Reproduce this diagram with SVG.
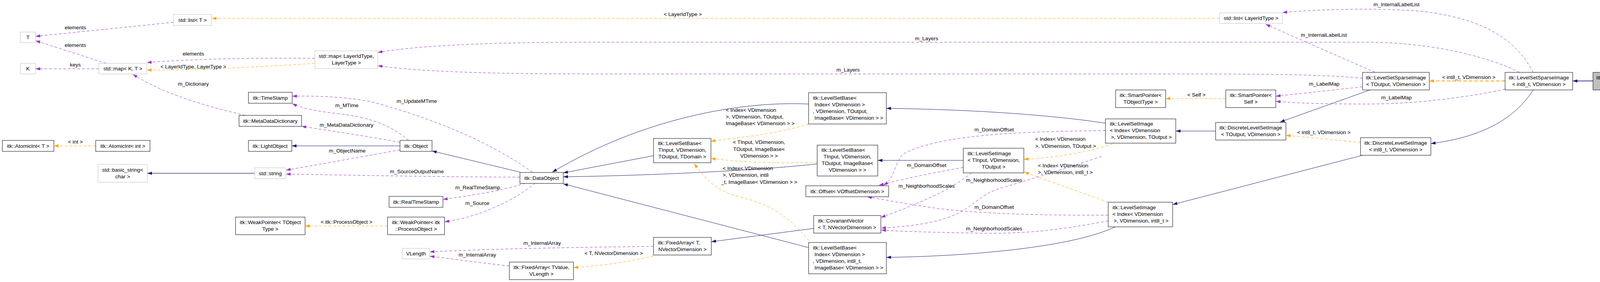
<svg xmlns="http://www.w3.org/2000/svg" width="4275" height="721" viewBox="0 0 4275 721">
<style>
text{font-family:"Liberation Sans",Arial,sans-serif;font-size:13.5px;fill:#000}
.n rect{fill:#fff;stroke:#000;stroke-width:1}
.g rect{fill:#fff;stroke:#bfbfbf;stroke-width:1}
.m{text-anchor:middle}
.inh{fill:none;stroke:#191970;stroke-width:1}
.tpl{fill:none;stroke:#ffa500;stroke-width:1;stroke-dasharray:7,5}
.use{fill:none;stroke:#9a32cd;stroke-width:1;stroke-dasharray:7,5}
</style>
<defs>
<marker id="an" markerWidth="12" markerHeight="8" refX="12" refY="4" orient="auto" markerUnits="userSpaceOnUse"><path d="M0,0L12,4L0,8z" fill="#191970"/></marker>
<marker id="ao" markerWidth="12" markerHeight="8" refX="12" refY="4" orient="auto" markerUnits="userSpaceOnUse"><path d="M0,0L12,4L0,8z" fill="#ffa500"/></marker>
<marker id="ap" markerWidth="12" markerHeight="8" refX="12" refY="4" orient="auto" markerUnits="userSpaceOnUse"><path d="M0,0L12,4L0,8z" fill="#9a32cd"/></marker>
</defs>
<rect width="4275" height="721" fill="#fff"/>
<g id="edges">
<path class="inh" style="stroke:#404080;stroke-width:2" marker-end="url(#an)" d="M4078,207H4026"/>
<path class="inh" marker-end="url(#an)" d="M3925,230C3880,300 3800,350 3663,367"/>
<path class="inh" marker-end="url(#an)" d="M3507,230L3277,312"/>
<path class="inh" marker-end="url(#an)" d="M3112,335H3010"/>
<path class="inh" marker-end="url(#an)" d="M3488,397L3002,523"/>
<path class="inh" marker-end="url(#an)" d="M2830,315C2700,295 2500,280 2269,277"/>
<path class="inh" marker-end="url(#an)" d="M2855,580C2750,630 2500,655 2269,658"/>
<path class="inh" marker-end="url(#an)" d="M2466,410H2247"/>
<path class="inh" marker-end="url(#an)" d="M2070,266C1900,258 1650,300 1414,440"/>
<path class="inh" marker-end="url(#an)" d="M1673,398L1442,442"/>
<path class="inh" marker-end="url(#an)" d="M2092,419C1900,440 1600,450 1442,452"/>
<path class="inh" marker-end="url(#an)" d="M2070,633L1442,470"/>
<path class="inh" marker-end="url(#an)" d="M2083,584L1821,618"/>
<path class="inh" marker-end="url(#an)" d="M1331,440L1106,386"/>
<path class="inh" marker-end="url(#an)" d="M1024,373H747"/>
<path class="inh" style="stroke:#404080;stroke-width:1.5" marker-end="url(#an)" d="M652,443H377"/>

<path class="tpl" marker-end="url(#ao)" d="M3122,47H542"/>
<path class="tpl" marker-end="url(#ao)" d="M806,162C650,172 500,180 376,179"/>
<path class="tpl" marker-end="url(#ao)" d="M245,373H138"/>
<path class="tpl" marker-end="url(#ao)" d="M992,578H781"/>
<path class="tpl" marker-end="url(#ao)" d="M1673,654C1600,672 1530,680 1468,684"/>
<path class="tpl" marker-end="url(#ao)" d="M2070,317C1980,345 1900,350 1820,361"/>
<path class="tpl" marker-end="url(#ao)" d="M2092,415C1980,418 1900,415 1820,405"/>
<path class="tpl" marker-end="url(#ao)" d="M2070,615C2040,580 2000,530 1900,505C1830,490 1800,450 1777,418"/>
<path class="tpl" marker-end="url(#ao)" d="M2848,368C2780,390 2700,404 2621,407"/>
<path class="tpl" marker-end="url(#ao)" d="M2837,517L2622,440"/>
<path class="tpl" marker-end="url(#ao)" d="M3138,252H2984"/>
<path class="tpl" marker-end="url(#ao)" d="M3483,364L3292,346"/>
<path class="tpl" style="stroke-width:2;stroke-dasharray:9,5" marker-end="url(#ao)" d="M3853,207H3659"/>

<path class="use" marker-end="url(#ap)" d="M444,57L91,93"/>
<path class="use" marker-end="url(#ap)" d="M272,162L91,104"/>
<path class="use" marker-end="url(#ap)" d="M253,176H91"/>
<path class="use" marker-end="url(#ap)" d="M806,149C650,148 500,150 376,160"/>
<path class="use" marker-end="url(#ap)" d="M628,295C520,270 420,240 340,190"/>
<path class="use" marker-end="url(#ap)" d="M1046,359C1000,320 950,300 860,290C800,283 770,275 748,265"/>
<path class="use" marker-end="url(#ap)" d="M1024,364C950,350 850,335 772,323"/>
<path class="use" marker-end="url(#ap)" d="M1024,383C930,400 820,420 732,435"/>
<path class="use" marker-end="url(#ap)" d="M1363,440C1250,360 1100,300 950,260C880,246 800,245 748,246"/>
<path class="use" marker-end="url(#ap)" d="M1331,453C1100,452 900,448 732,445"/>
<path class="use" marker-end="url(#ap)" d="M1345,468C1280,490 1200,500 1134,510"/>
<path class="use" marker-end="url(#ap)" d="M1370,468C1320,510 1230,555 1138,567"/>
<path class="use" marker-end="url(#ap)" d="M1673,630C1500,632 1250,636 1100,644"/>
<path class="use" marker-end="url(#ap)" d="M1304,680C1230,672 1160,662 1100,655"/>
<path class="use" marker-end="url(#ap)" d="M3890,185C3800,140 3650,108 3500,108H1500C1200,108 1050,120 967,134"/>
<path class="use" marker-end="url(#ap)" d="M3488,200C3400,192 3300,189 3000,189H1500C1200,189 1050,180 967,168"/>
<path class="use" marker-end="url(#ap)" d="M3925,185C3880,100 3800,50 3650,30C3550,20 3400,22 3283,32"/>
<path class="use" marker-end="url(#ap)" d="M3520,185L3240,62"/>
<path class="use" marker-end="url(#ap)" d="M3488,222L3266,246"/>
<path class="use" marker-end="url(#ap)" d="M3853,228C3750,250 3620,266 3500,266C3400,266 3320,264 3266,259"/>
<path class="use" marker-end="url(#ap)" d="M2830,334C2600,336 2400,345 2310,395C2290,420 2290,455 2262,474"/>
<path class="use" marker-end="url(#ap)" d="M2466,428C2400,440 2320,455 2250,474"/>
<path class="use" marker-end="url(#ap)" d="M2837,550C2700,551 2500,548 2380,530C2300,518 2260,510 2220,503"/>
<path class="use" marker-end="url(#ap)" d="M2487,442C2440,480 2380,510 2255,556"/>
<path class="use" marker-end="url(#ap)" d="M2820,400C2700,440 2600,470 2559,482C2470,510 2500,570 2256,583"/>
<path class="use" marker-end="url(#ap)" d="M2837,565C2750,580 2650,600 2500,596C2400,594 2300,592 2256,588"/>

<text class="m" x="1748" y="41">&lt; LayerIdType &gt;</text>
<text class="m" x="495" y="175">&lt; LayerIdType, LayerType &gt;</text>
<text class="m" x="193" y="367">&lt; int &gt;</text>
<text class="m" x="887" y="572">&lt; itk::ProcessObject &gt;</text>
<text class="m" x="1571" y="652">&lt; T, NVectorDimension &gt;</text>
<text x="1858" y="286">&lt; Index&lt; VDimension</text>
<text x="1858" y="303">&gt;, VDimension, TOutput,</text>
<text x="1858" y="320">ImageBase&lt; VDimension &gt; &gt;</text>
<text class="m" x="1943" y="368">&lt; TInput, VDimension,</text>
<text class="m" x="1943" y="386">TOutput, ImageBase&lt;</text>
<text class="m" x="1943" y="403">VDimension &gt; &gt;</text>
<text x="1850" y="435">&lt; Index&lt; VDimension</text>
<text x="1850" y="452">&gt;, VDimension, int8</text>
<text x="1846" y="470">_t, ImageBase&lt; VDimension &gt; &gt;</text>
<text x="2650" y="360">&lt; Index&lt; VDimension</text>
<text x="2650" y="378">&gt;, VDimension, TOutput &gt;</text>
<text x="2657" y="428">&lt; Index&lt; VDimension</text>
<text x="2657" y="445">&gt;, VDimension, int8_t &gt;</text>
<text class="m" x="3063" y="247">&lt; Self &gt;</text>
<text class="m" x="3389" y="343">&lt; int8_t, VDimension &gt;</text>
<text class="m" x="3760" y="202">&lt; int8_t, VDimension &gt;</text>

<text class="m" x="193" y="75">elements</text>
<text class="m" x="193" y="120">elements</text>
<text class="m" x="193" y="170">keys</text>
<text class="m" x="495" y="142">elements</text>
<text class="m" x="495" y="219">m_Dictionary</text>
<text class="m" x="888" y="274">m_MTime</text>
<text class="m" x="887" y="324">m_MetaDataDictionary</text>
<text class="m" x="889" y="390">m_ObjectName</text>
<text class="m" x="1067" y="263">m_UpdateMTime</text>
<text class="m" x="1067" y="443">m_SourceOutputName</text>
<text class="m" x="1223" y="484">m_RealTimeStamp</text>
<text class="m" x="1222" y="524">m_Source</text>
<text class="m" x="1388" y="626">m_InternalArray</text>
<text class="m" x="1222" y="656">m_InternalArray</text>
<text class="m" x="2372" y="103">m_Layers</text>
<text class="m" x="2171" y="183">m_Layers</text>
<text class="m" x="3575" y="16">m_InternalLabelList</text>
<text class="m" x="3389" y="94">m_InternalLabelList</text>
<text class="m" x="3390" y="219">m_LabelMap</text>
<text class="m" x="3575" y="254">m_LabelMap</text>
<text class="m" x="2545" y="336">m_DomainOffset</text>
<text class="m" x="2372" y="427">m_DomainOffset</text>
<text class="m" x="2545" y="534">m_DomainOffset</text>
<text class="m" x="2372" y="480">m_NeighborhoodScales</text>
<text class="m" x="2545" y="465">m_NeighborhoodScales</text>
<text class="m" x="2545" y="589">m_NeighborhoodScales</text>
</g>

<g id="n_listT" class="g"><rect x="444" y="37" width="98" height="28"/><text class="m" x="493" y="56">std::list&lt; T &gt;</text></g>
<g id="n_T" class="g"><rect x="52" y="82" width="39" height="27"/><text class="m" x="71.5" y="100">T</text></g>
<g id="n_K" class="g"><rect x="52" y="162" width="39" height="27"/><text class="m" x="71.5" y="180">K</text></g>
<g id="n_mapKT" class="g"><rect x="253" y="162" width="123" height="27"/><text class="m" x="314.5" y="180">std::map&lt; K, T &gt;</text></g>
<g id="n_mapLayer" class="g"><rect x="806" y="130" width="161" height="45"/><text class="m" x="886.5" y="148">std::map&lt; LayerIdType,</text><text class="m" x="886.5" y="165">LayerType &gt;</text></g>
<g id="n_TimeStamp" class="n"><rect x="636" y="236" width="112" height="28"/><text class="m" x="692" y="255">itk::TimeStamp</text></g>
<g id="n_MDD" class="n"><rect x="612" y="295" width="160" height="28"/><text class="m" x="692" y="314">itk::MetaDataDictionary</text></g>
<g id="n_AtomicT" class="n"><rect x="6" y="359" width="132" height="28"/><text class="m" x="72" y="378">itk::AtomicInt&lt; T &gt;</text></g>
<g id="n_AtomicInt" class="n"><rect x="245" y="359" width="139" height="28"/><text class="m" x="314.5" y="378">itk::AtomicInt&lt; int &gt;</text></g>
<g id="n_LightObject" class="n"><rect x="636" y="359" width="111" height="28"/><text class="m" x="691.5" y="378">itk::LightObject</text></g>
<g id="n_Object" class="n"><rect x="1024" y="359" width="82" height="28"/><text class="m" x="1065" y="378">itk::Object</text></g>
<g id="n_basicstring" class="g"><rect x="251" y="420" width="126" height="46"/><text class="m" x="314" y="439">std::basic_string&lt;</text><text class="m" x="314" y="456">char &gt;</text></g>
<g id="n_string" class="g"><rect x="652" y="429" width="80" height="28"/><text class="m" x="692" y="448">std::string</text></g>
<g id="n_DataObject" class="n"><rect x="1331" y="441" width="111" height="28"/><text class="m" x="1386.5" y="460">itk::DataObject</text></g>
<g id="n_RealTimeStamp" class="n"><rect x="996" y="502" width="138" height="28"/><text class="m" x="1065" y="521">itk::RealTimeStamp</text></g>
<g id="n_WeakPT" class="n"><rect x="603" y="555" width="178" height="45"/><text class="m" x="692" y="573">itk::WeakPointer&lt; TObject</text><text class="m" x="692" y="590">Type &gt;</text></g>
<g id="n_WeakPP" class="n"><rect x="992" y="555" width="146" height="45"/><text class="m" x="1065" y="573">itk::WeakPointer&lt; itk</text><text class="m" x="1065" y="590">::ProcessObject &gt;</text></g>
<g id="n_VLength" class="g"><rect x="1030" y="635" width="70" height="27"/><text class="m" x="1065" y="653">VLength</text></g>
<g id="n_FixedTV" class="n"><rect x="1304" y="670" width="164" height="45"/><text class="m" x="1386" y="688">itk::FixedArray&lt; TValue,</text><text class="m" x="1386" y="705">VLength &gt;</text></g>
<g id="n_LSBTD" class="n"><rect x="1673" y="354" width="147" height="62"/><text x="1684" y="371">itk::LevelSetBase&lt;</text><text class="m" x="1746.5" y="388">TInput, VDimension,</text><text class="m" x="1746.5" y="405">TOutput, TDomain &gt;</text></g>
<g id="n_FixedTN" class="n"><rect x="1673" y="607" width="148" height="45"/><text x="1684" y="625">itk::FixedArray&lt; T,</text><text class="m" x="1747" y="642">NVectorDimension &gt;</text></g>
<g id="n_LSBIO" class="n"><rect x="2070" y="237" width="199" height="80"/><text x="2081" y="255">itk::LevelSetBase&lt;</text><text x="2085" y="272">Index&lt; VDimension &gt;</text><text x="2081" y="289">, VDimension, TOutput,</text><text x="2085" y="306">ImageBase&lt; VDimension &gt; &gt;</text></g>
<g id="n_LSBTI" class="n"><rect x="2092" y="371" width="155" height="79"/><text x="2103" y="388">itk::LevelSetBase&lt;</text><text class="m" x="2169.5" y="405">TInput, VDimension,</text><text class="m" x="2169.5" y="422">TOutput, ImageBase&lt;</text><text class="m" x="2169.5" y="439">VDimension &gt; &gt;</text></g>
<g id="n_Offset" class="n"><rect x="2063" y="475" width="212" height="28"/><text class="m" x="2169" y="494">itk::Offset&lt; VOffsetDimension &gt;</text></g>
<g id="n_Cov" class="n"><rect x="2083" y="551" width="172" height="45"/><text x="2094" y="569">itk::CovariantVector</text><text x="2094" y="586">&lt; T, NVectorDimension &gt;</text></g>
<g id="n_LSBI8" class="n"><rect x="2070" y="620" width="199" height="80"/><text x="2081" y="638">itk::LevelSetBase&lt;</text><text x="2085" y="655">Index&lt; VDimension &gt;</text><text x="2081" y="672">, VDimension, int8_t,</text><text x="2085" y="689">ImageBase&lt; VDimension &gt; &gt;</text></g>
<g id="n_LSITI" class="n"><rect x="2466" y="379" width="155" height="63"/><text x="2477" y="397">itk::LevelSetImage</text><text x="2477" y="414">&lt; TInput, VDimension,</text><text class="m" x="2543.5" y="431">TOutput &gt;</text></g>
<g id="n_LSIIO" class="n"><rect x="2830" y="304" width="180" height="62"/><text x="2841" y="321">itk::LevelSetImage</text><text x="2841" y="338">&lt; Index&lt; VDimension</text><text x="2844" y="355">&gt;, VDimension, TOutput &gt;</text></g>
<g id="n_LSII8" class="n"><rect x="2837" y="517" width="165" height="63"/><text x="2848" y="535">itk::LevelSetImage</text><text x="2848" y="552">&lt; Index&lt; VDimension</text><text x="2851" y="569">&gt;, VDimension, int8_t &gt;</text></g>
<g id="n_SPT" class="n"><rect x="2856" y="230" width="128" height="45"/><text class="m" x="2920" y="248">itk::SmartPointer&lt;</text><text class="m" x="2920" y="265">TObjectType &gt;</text></g>
<g id="n_SPS" class="n"><rect x="3138" y="230" width="128" height="45"/><text class="m" x="3202" y="248">itk::SmartPointer&lt;</text><text class="m" x="3202" y="265">Self &gt;</text></g>
<g id="n_DLSIO" class="n"><rect x="3112" y="313" width="180" height="45"/><text class="m" x="3202" y="331">itk::DiscreteLevelSetImage</text><text class="m" x="3202" y="348">&lt; TOutput, VDimension &gt;</text></g>
<g id="n_listL" class="g"><rect x="3122" y="33" width="161" height="27"/><text class="m" x="3202.5" y="51">std::list&lt; LayerIdType &gt;</text></g>
<g id="n_LSSO" class="n"><rect x="3488" y="185" width="171" height="45"/><text class="m" x="3573.5" y="203">itk::LevelSetSparseImage</text><text class="m" x="3573.5" y="220">&lt; TOutput, VDimension &gt;</text></g>
<g id="n_DLSI8" class="n"><rect x="3483" y="352" width="180" height="45"/><text class="m" x="3573" y="370">itk::DiscreteLevelSetImage</text><text class="m" x="3573" y="387">&lt; int8_t, VDimension &gt;</text></g>
<g id="n_LSS8" class="n"><rect x="3853" y="185" width="173" height="45"/><text class="m" x="3939.5" y="203">itk::LevelSetSparseImage</text><text class="m" x="3939.5" y="220">&lt; int8_t, VDimension &gt;</text></g>
<g id="n_Shi"><rect x="4078" y="185" width="190" height="45" fill="#bfbfbf" stroke="#000"/><text class="m" x="4170" y="203" style="font-size:13px">itk::ShiSparseLevelSetImage</text><text class="m" x="4170" y="220" style="font-size:13px">&lt; VDimension &gt;</text></g>
</svg>
